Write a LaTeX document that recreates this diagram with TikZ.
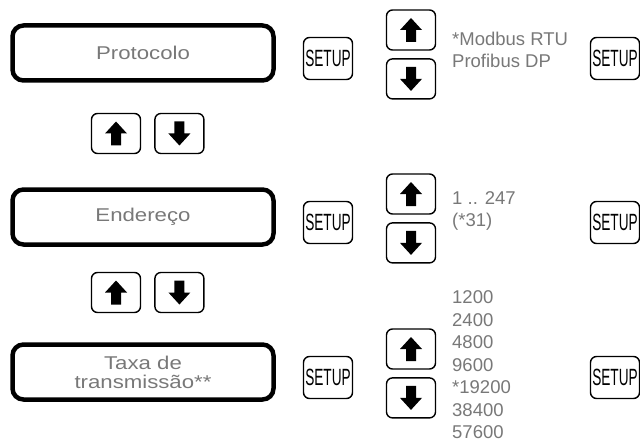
\documentclass[tikz,border=0pt]{standalone}
\usepackage{fontspec}
\setmainfont{Liberation Sans}
\newfontfamily\boxfont[FakeStretch=1.2]{Liberation Sans}
\newfontfamily\keyfont[FakeStretch=0.58]{Liberation Sans}
\usetikzlibrary{positioning}
\definecolor{mygray}{RGB}{120,120,120}
\tikzset{
  menubox/.style={rectangle, draw=black, line width=4.5pt,
    rounded corners=11pt, minimum width=261pt, minimum height=55pt,
    align=center, text=mygray, inner sep=0pt,
    font=\boxfont\fontsize{18.5}{19}\selectfont},
  keybox/.style={rectangle, draw=black, line width=1.4pt,
    rounded corners=6pt, inner sep=0pt},
  setupkey/.style={keybox, minimum width=49pt, minimum height=42pt,
    font=\keyfont\fontsize{23.5}{24}\selectfont},
  arrowkey/.style={keybox, minimum width=49pt, minimum height=40pt},
  upkey/.style={arrowkey, path picture={
    \fill[black, sharp corners] ([yshift=-12pt]path picture bounding box.center)
      ++(-5pt,0pt) -- ++(10pt,0pt) -- ++(0pt,12pt) -- ++(6pt,0pt)
      -- ++(-11pt,12pt) -- ++(-11pt,-12pt) -- ++(6pt,0pt) -- cycle;}},
  downkey/.style={arrowkey, path picture={
    \fill[black, sharp corners] ([yshift=12pt]path picture bounding box.center)
      ++(-5pt,0pt) -- ++(10pt,0pt) -- ++(0pt,-12pt) -- ++(6pt,0pt)
      -- ++(-11pt,-12pt) -- ++(-11pt,12pt) -- ++(6pt,0pt) -- cycle;}},
  optlist/.style={anchor=base west, align=left, inner sep=0pt,
    text=mygray, font=\fontsize{18.5}{22.5}\selectfont}
}

\begin{document}
\begin{tikzpicture}[x=1pt, y=-1pt, node distance=7.5pt and 13pt]
  \useasboundingbox (0,0) rectangle (640,441);
  % menu entries
  \node[menubox] (proto) at (143,53)  {Protocolo};
  \node[menubox] (ender) at (143,217) {Endereço};
  \node[menubox] (taxa)  at (143,372) {Taxa de\\transmissão**};
  % keys between the entries
  \node[upkey] (upA) at (116,133.5) {};
  \node[downkey, right=of upA] (downA) {};
  \node[upkey] (upB) at (116,292.5) {};
  \node[downkey, right=of upB] (downB) {};
  % protocol
  \node[setupkey] (setP) at (328,58.5) {SETUP};
  \node[upkey] (upP) at (411,30) {};
  \node[downkey, below=of upP] (downP) {};
  \node[optlist] (optP) at (452,67.7) {*Modbus RTU\\Profibus DP};
  \node[setupkey] (okP) at (615,58.5) {SETUP};
  % address
  \node[setupkey] (setE) at (328,222.5) {SETUP};
  \node[upkey] (upE) at (411,194) {};
  \node[downkey, below=of upE] (downE) {};
  \node[optlist] (optE) at (452,226.7) {1 .. 247\\(*31)};
  \node[setupkey] (okE) at (615,222.5) {SETUP};
  % baud rate
  \node[setupkey] (setT) at (328,377.5) {SETUP};
  \node[upkey] (upT) at (411,349) {};
  \node[downkey, below=of upT] (downT) {};
  \node[optlist] (optT) at (452,438.5)
    {1200\\2400\\4800\\9600\\*19200\\38400\\57600};
  \node[setupkey] (okT) at (615,377.5) {SETUP};
\end{tikzpicture}
\end{document}
